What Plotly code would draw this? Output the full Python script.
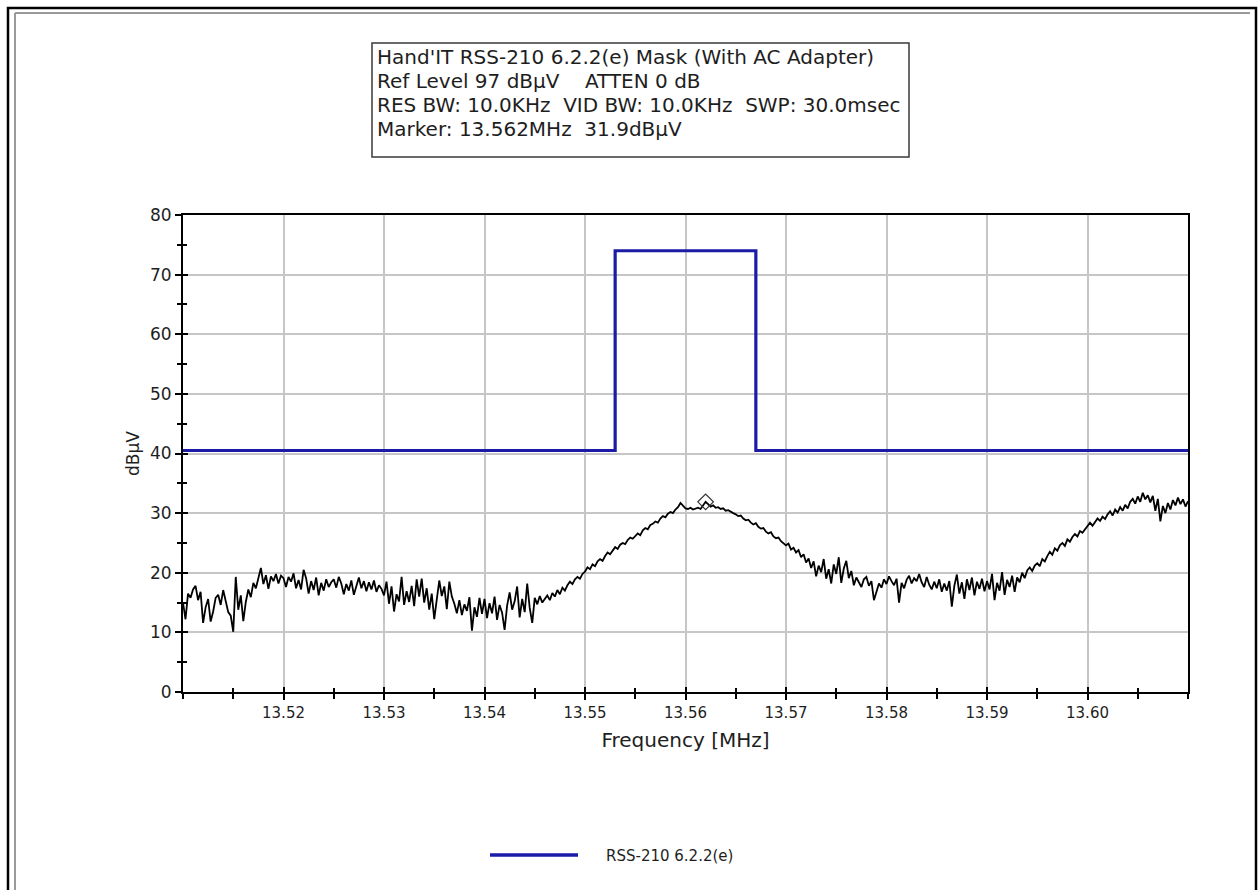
import numpy as np
import plotly.graph_objects as go

# ---- sweep data -------------------------------------------------------------
# 401 sweep points, 13.510 .. 13.610 MHz
sweep_freq_mhz = np.linspace(13.51, 13.61, 401)

# measured level (dBuV), 20 points per 0.005 MHz block
sweep_level_dbuv = [
    15.0, 12.2, 16.5, 15.8, 17.2, 17.8, 15.4, 16.8, 11.6, 14.2, 15.6, 11.8, 13.5, 15.8, 16.3, 14.6, 17.1, 15.2, 13.4, 12.8,
    10.1, 19.3, 13.8, 16.2, 11.9, 15.1, 17.2, 15.9, 18.3, 17.4, 19.2, 20.8, 18.1, 19.6, 17.3, 19.4, 18.6, 19.8, 18.2, 19.5,
    19.1, 17.6, 19.3, 18.5, 19.9, 17.4, 18.8, 17.2, 20.5, 19.1, 16.5, 18.6, 17.1, 19.2, 16.2, 18.3, 17.0, 18.9, 17.6, 18.4,
    18.9, 17.5, 19.3, 18.2, 16.4, 18.1, 17.0, 18.7, 16.3, 17.9, 19.2, 17.4, 18.6, 16.9, 18.4, 17.2, 18.7, 16.8, 17.9, 17.3,
    16.2, 18.5, 14.8, 17.7, 13.5, 16.4, 15.2, 19.3, 14.6, 16.9, 15.1, 17.8, 14.4, 18.9, 16.0, 19.0, 15.0, 17.4, 13.8, 16.5,
    12.2, 15.5, 18.7, 16.1, 17.7, 13.9, 18.5, 16.0, 14.8, 13.2, 15.4, 12.9, 14.7, 13.6, 15.9, 10.3, 14.2, 12.6, 15.8, 13.1,
    15.6, 12.4, 14.9, 13.2, 16.0, 12.1, 14.6, 13.3, 10.4, 14.5, 16.7, 13.8, 15.2, 17.7, 12.5, 15.6, 13.4, 18.2, 14.1, 11.6,
    15.8, 14.7, 16.1, 15.0, 15.6, 16.2, 15.4, 16.6, 16.0, 17.1, 16.4, 17.5, 17.0, 17.9, 18.5, 18.1, 18.9, 19.3, 19.0, 19.8,
    20.2, 20.9, 20.6, 21.4, 21.1, 21.9, 22.3, 22.0, 22.8, 23.4, 23.1, 23.8, 24.3, 24.0, 24.7, 25.0, 24.8, 25.5, 25.9, 25.7,
    26.2, 26.6, 26.3, 27.1, 27.5, 27.3, 28.0, 28.2, 28.6, 28.4, 29.1, 29.5, 29.3, 29.9, 30.2, 30.0, 30.6, 31.0, 31.7, 31.2,
    30.8, 30.7, 30.9, 30.6, 30.8, 30.9, 30.7, 31.3, 31.9, 31.5, 31.1, 31.3, 30.9, 31.0, 30.7, 30.8, 30.4, 30.5, 30.2, 30.0,
    29.8, 29.5, 29.6, 29.1, 28.8, 28.9, 28.4, 28.1, 28.3, 27.7, 27.4, 27.5, 26.9, 26.6, 26.8, 26.1, 25.8, 25.9, 25.3, 25.0,
    24.6, 24.9, 23.9, 24.2, 23.4, 23.8, 22.6, 23.1, 21.7, 22.4, 20.8, 21.9, 19.4, 21.2, 20.1, 22.3, 19.0, 20.6, 18.2, 21.4,
    19.8, 22.6, 18.3, 20.7, 22.0, 19.1, 20.3, 17.9, 19.2, 18.4, 17.6, 18.9, 19.3, 17.8, 18.6, 15.4, 16.8, 18.2, 17.5, 18.9,
    18.1, 19.4, 18.6, 17.9, 19.0, 15.0, 18.3, 17.4, 18.8, 19.5, 18.2, 19.1, 18.6, 19.8, 18.4, 17.6, 19.3, 18.0, 17.2, 18.5,
    17.4, 18.9, 16.8, 18.2, 17.0, 18.6, 14.3, 17.8, 19.7, 16.5, 18.4, 15.6, 18.9, 17.1, 19.2, 16.2, 18.5, 17.3, 19.0, 16.9,
    18.6, 17.2, 19.8, 15.4, 18.3, 17.0, 20.1, 16.3, 18.8, 17.6, 19.5, 16.8, 19.2, 18.4, 20.0, 19.1, 20.4, 20.9, 20.3, 21.2,
    21.6, 21.1, 22.3, 21.9, 22.8, 23.5, 23.0, 24.1, 23.7, 24.6, 25.0, 24.5, 25.6, 25.2, 26.0, 26.5, 26.1, 27.0, 26.7, 27.3,
    27.8, 28.4, 27.9, 28.6, 29.1, 28.7, 29.4, 29.0, 29.8, 30.3, 29.6, 30.6, 30.1, 31.0, 30.4, 31.4, 30.8, 31.9, 32.4, 31.6,
    32.8, 31.9, 33.4, 32.3, 33.0, 31.8, 32.9, 30.4, 32.4, 28.6, 31.2, 30.0, 31.7, 30.6, 32.2, 31.3, 32.6, 31.5, 32.3, 31.1,
    32.0,
]

# RSS-210 6.2.2(e) limit mask (step edges)
mask_freq_mhz = [13.51, 13.553, 13.567, 13.61]
mask_level_dbuv = [40.5, 74.0, 40.5, 40.5]
mask_name = "RSS-210 6.2.2(e)"

# marker reading
marker_freq_mhz = 13.562
marker_level_dbuv = 31.9

# axis ticks
x_tick_vals = [13.52, 13.53, 13.54, 13.55, 13.56, 13.57, 13.58, 13.59, 13.60]
x_tick_text = ["13.52", "13.53", "13.54", "13.55", "13.56", "13.57", "13.58", "13.59", "13.60"]
y_tick_vals = [0, 10, 20, 30, 40, 50, 60, 70, 80]

header_lines = [
    "Hand'IT RSS-210 6.2.2(e) Mask (With AC Adapter)",
    "Ref Level 97 dBµV    ATTEN 0 dB",
    "RES BW: 10.0KHz  VID BW: 10.0KHz  SWP: 30.0msec",
    "Marker: 13.562MHz  31.9dBµV",
]

# ---- layout geometry (pixels on the 1260x890 page) -------------------------
W, H = 1260, 890
PL, PR, PT, PB = 183, 1188, 215, 692
FONT = "DejaVu Sans"
TEXT = "#1e1e1e"
MASK_BLUE = "#1b1ba8"


def px(x):
    return (x - PL) / (PR - PL)


def py(y):
    return (PB - y) / (PB - PT)


fig = go.Figure()

fig.add_trace(go.Scatter(
    x=mask_freq_mhz, y=mask_level_dbuv, mode="lines", line_shape="hv",
    line=dict(color=MASK_BLUE, width=3.2), name=mask_name, showlegend=False,
    hoverinfo="skip",
))
fig.add_trace(go.Scatter(
    x=sweep_freq_mhz, y=sweep_level_dbuv, mode="lines",
    line=dict(color="black", width=1.8), showlegend=False,
    xaxis="x2", yaxis="y2",
))
fig.add_trace(go.Scatter(
    x=[marker_freq_mhz], y=[marker_level_dbuv], mode="markers",
    marker=dict(symbol="diamond-open", size=12, color="#333333", line=dict(width=1.2)),
    showlegend=False, xaxis="x2", yaxis="y2",
))

x_range = [13.51, 13.61]
y_range = [0, 80]

common_x = dict(range=x_range, tickvals=x_tick_vals, zeroline=False)
common_y = dict(range=y_range, tickvals=y_tick_vals, zeroline=False)

fig.update_layout(
    width=W, height=H,
    margin=dict(l=PL, r=W - PR, t=PT, b=H - PB, pad=0),
    paper_bgcolor="white", plot_bgcolor="white",
    font=dict(family=FONT, color=TEXT),
    xaxis=dict(
        **common_x, ticktext=x_tick_text,
        ticks="outside", ticklen=6, tickwidth=1.5, tickcolor="black",
        tickfont=dict(family=FONT, size=15, color=TEXT),
        showline=True, linecolor="black", linewidth=2, mirror=True,
        showgrid=True, gridcolor="#c6c6c6", gridwidth=1.5,
        minor=dict(tick0=13.51, dtick=0.005, ticks="outside", ticklen=5,
                   tickwidth=1.5, tickcolor="black", showgrid=False),
        title=dict(text="Frequency [MHz]", font=dict(family=FONT, size=20, color=TEXT), standoff=12),
    ),
    yaxis=dict(
        **common_y,
        ticks="outside", ticklen=6, tickwidth=1.5, tickcolor="black",
        tickfont=dict(family=FONT, size=17, color=TEXT),
        showline=True, linecolor="black", linewidth=2, mirror=True,
        showgrid=True, gridcolor="#c6c6c6", gridwidth=1.5,
        minor=dict(tick0=0, dtick=5, ticks="outside", ticklen=4,
                   tickwidth=1.5, tickcolor="black", showgrid=False),
        title=dict(text="dBµV", font=dict(family=FONT, size=17, color=TEXT), standoff=6),
    ),
    # overlay axes carry the inward half of the crossing tick marks
    xaxis2=dict(
        **common_x, overlaying="x", anchor="y2", side="bottom",
        ticks="inside", ticklen=5, tickwidth=1.5, tickcolor="black",
        showticklabels=False, showline=False, showgrid=False,
        minor=dict(tick0=13.51, dtick=0.005, ticks="inside", ticklen=4,
                   tickwidth=1.5, tickcolor="black", showgrid=False),
    ),
    yaxis2=dict(
        **common_y, overlaying="y", anchor="x2", side="left",
        ticks="inside", ticklen=5, tickwidth=1.5, tickcolor="black",
        showticklabels=False, showline=False, showgrid=False,
        minor=dict(tick0=0, dtick=5, ticks="inside", ticklen=4,
                   tickwidth=1.5, tickcolor="black", showgrid=False),
    ),
    showlegend=False,
)

shapes = [
    # outer page frame
    dict(type="rect", xref="paper", yref="paper",
         x0=px(8), x1=px(1256), y0=py(1000), y1=py(8),
         line=dict(color="black", width=2.5), fillcolor="rgba(0,0,0,0)", layer="below"),
    dict(type="line", xref="paper", yref="paper",
         x0=px(15), x1=px(15), y0=py(1000), y1=py(13),
         line=dict(color="#9a9a9a", width=2)),
    dict(type="line", xref="paper", yref="paper",
         x0=px(15), x1=px(1250), y0=py(13), y1=py(13),
         line=dict(color="#9a9a9a", width=2)),
    # header box
    dict(type="rect", xref="paper", yref="paper",
         x0=px(372), x1=px(909), y0=py(157), y1=py(43),
         line=dict(color="#3a3a3a", width=1.5), fillcolor="white"),
    # legend sample line
    dict(type="line", xref="paper", yref="paper",
         x0=px(490), x1=px(578), y0=py(855), y1=py(855),
         line=dict(color=MASK_BLUE, width=3.5)),
]
fig.update_layout(shapes=shapes)

annotations = []
for i, line in enumerate(header_lines):
    annotations.append(dict(
        xref="paper", yref="paper", x=px(375), y=py(57 + 24 * i),
        xanchor="left", yanchor="middle", showarrow=False, text=line,
        font=dict(family=FONT, size=20, color=TEXT),
    ))
annotations.append(dict(
    xref="paper", yref="paper", x=px(604), y=py(856),
    xanchor="left", yanchor="middle", showarrow=False, text=mask_name,
    font=dict(family=FONT, size=15, color=TEXT),
))
fig.update_layout(annotations=annotations)

fig.write_html("out.html")
